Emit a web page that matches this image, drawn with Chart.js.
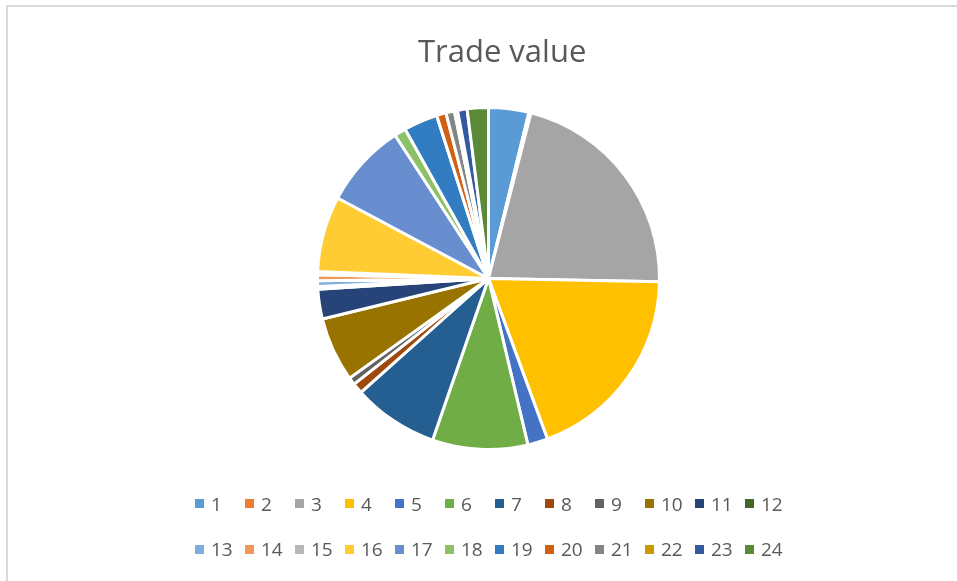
<!DOCTYPE html>
<html>
<head>
<meta charset="utf-8">
<script src="https://cdn.jsdelivr.net/npm/chart.js"></script>
<style>
  html, body { margin: 0; padding: 0; background: #fff; }
  body { width: 957px; height: 581px; position: relative; overflow: hidden; font-family: "Open Sans", sans-serif; }
  #frame { position: absolute; left: 6px; top: 5px; right: -10px; bottom: -10px; border-top: 2px solid #d9d9d9; border-left: 2px solid #d9d9d9; }
  #wrap { position: absolute; left: 0; top: 0; width: 957px; height: 581px; }
  #legend { position: absolute; left: 195px; top: 481px; width: 640px; }
  .row { display: flex; height: 45.5px; align-items: center; }
  .item { width: 50px; display: flex; align-items: center; flex: none; }
  .box { width: 9px; height: 9px; margin-right: 7px; flex: none; }
  .txt { font-size: 19px; color: #595959; line-height: 22px; }
</style>
</head>
<body>
<div id="frame"></div>
<div id="wrap"><canvas id="c" width="957" height="581"></canvas></div>
<div id="legend"></div>
<script>
const categories = ["1","2","3","4","5","6","7","8","9","10","11","12","13","14","15","16","17","18","19","20","21","22","23","24"];
const tradeValues = [3.8, 0.2, 21.3, 19.1, 1.9, 9.0, 8.1, 1.0, 0.7, 6.1, 2.8, 0.25, 0.55, 0.55, 0.3, 7.15, 8.0, 1.1, 3.2, 0.9, 0.8, 0.3, 0.9, 2.0];
const sliceColors = ["#5B9BD5","#ED7D31","#A5A5A5","#FFC000","#4472C4","#70AD47","#255E91","#9E480E","#636363","#997300","#264478","#43682B","#7CAFDD","#F1975A","#B7B7B7","#FFCD33","#698ED0","#8CC168","#327DC2","#D26012","#848484","#CC9A00","#335AA1","#5A8A39"];
const chartTitle = 'Trade value';
const legendRows = [12, 12];

const chart = new Chart(document.getElementById('c'), {
  type: 'pie',
  data: {
    labels: categories,
    datasets: [{
      data: tradeValues,
      backgroundColor: sliceColors,
      borderColor: '#ffffff',
      borderWidth: 3
    }]
  },
  options: {
    responsive: false,
    animation: false,
    layout: { padding: { left: 20, right: 0, top: 0, bottom: 130 } },
    plugins: {
      legend: { display: false },
      tooltip: { enabled: false },
      title: {
        display: true,
        // leading spaces nudge the centred title slightly right, as in the reference
        text: '   \u200A' + chartTitle,
        color: '#595959',
        font: { family: 'Open Sans', size: 31, weight: 'normal' },
        padding: { top: 35, bottom: 33.8 }
      }
    }
  }
});

// HTML legend built from the chart's own legend items
const items = chart.options.plugins.legend.labels.generateLabels(chart);
const legendEl = document.getElementById('legend');
let idx = 0;
legendRows.forEach(n => {
  const row = document.createElement('div');
  row.className = 'row';
  for (let k = 0; k < n && idx < items.length; k++, idx++) {
    const it = items[idx];
    const item = document.createElement('div');
    item.className = 'item';
    const box = document.createElement('span');
    box.className = 'box';
    box.style.background = it.fillStyle;
    const txt = document.createElement('span');
    txt.className = 'txt';
    txt.textContent = it.text;
    item.appendChild(box);
    item.appendChild(txt);
    row.appendChild(item);
  }
  legendEl.appendChild(row);
});
</script>
</body>
</html>
